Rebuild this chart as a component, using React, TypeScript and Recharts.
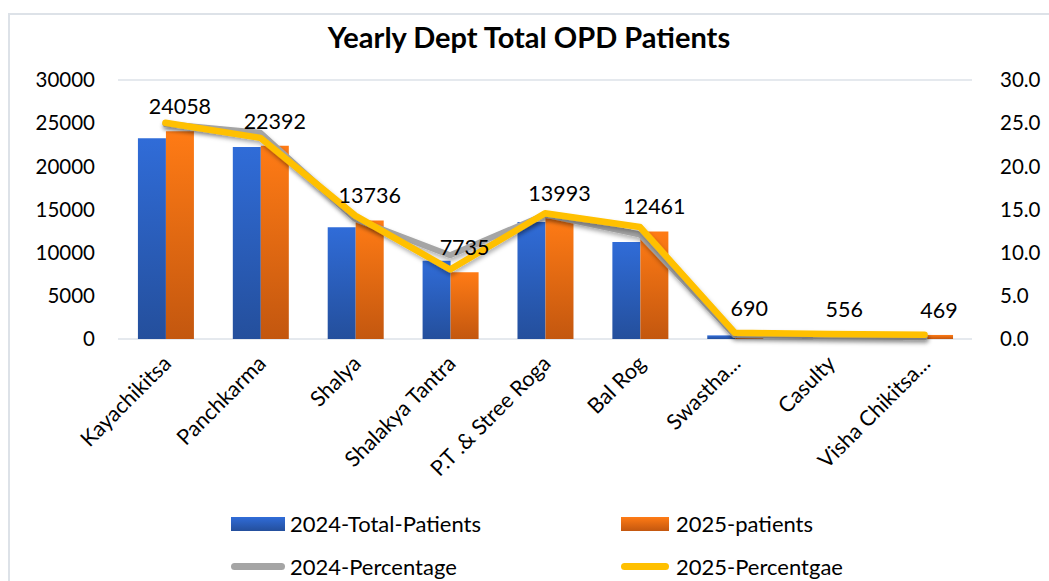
import React from 'react';
import {
  ComposedChart, Bar, Line, XAxis, YAxis, CartesianGrid, LabelList,
} from 'recharts';

const categories = ['Kayachikitsa', 'Panchkarma', 'Shalya', 'Shalakya Tantra', 'P.T .& Stree Roga', 'Bal Rog', 'Swastha...', 'Casulty', 'Visha Chikitsa...'];
const patients2024 = [23250, 22250, 12950, 9050, 13550, 11250, 420, 300, 200];
const patients2025 = [24058, 22392, 13736, 7735, 13993, 12461, 690, 556, 469];
const percent2024 = [24.9, 23.9, 13.9, 9.7, 14.4, 12.1, 0.45, 0.32, 0.21];
const percent2025 = [25.04, 23.3, 14.29, 8.05, 14.56, 12.97, 0.72, 0.58, 0.49];
const leftTicks = [0, 5000, 10000, 15000, 20000, 25000, 30000];
const rightTicks = [0, 5, 10, 15, 20, 25, 30];

const data = categories.map((name, i) => ({
  name,
  p2024: patients2024[i],
  p2025: patients2025[i],
  pc2024: percent2024[i],
  pc2025: percent2025[i],
}));

const FONT = 'Lato, "Open Sans", sans-serif';

const XTick = (props: any) => {
  const { x, payload } = props;
  const px = x + 7;
  const py = 365;
  return (
    <text x={px} y={py} transform={`rotate(-45 ${px} ${py})`} textAnchor="end" fontSize={21.5} fontFamily={FONT} fill="#000">
      {payload.value}
    </text>
  );
};

export default function App() {
  return (
    <div style={{ position: 'absolute', left: 0, top: 0, width: 1049, height: 581, overflow: 'hidden', background: '#fff', fontFamily: FONT }}>
      <svg width={0} height={0} style={{ position: 'absolute' }}>
        <defs>
          <linearGradient id="gBlue" x1="0" y1="0" x2="0" y2="1">
            <stop offset="0%" stopColor="#306CD8" />
            <stop offset="100%" stopColor="#244F9C" />
          </linearGradient>
          <linearGradient id="gOrange" x1="0" y1="0" x2="0" y2="1">
            <stop offset="0%" stopColor="#FF7B15" />
            <stop offset="100%" stopColor="#C3570F" />
          </linearGradient>
          <filter id="shadow" x="-10%" y="-10%" width="120%" height="140%">
            <feDropShadow dx="1" dy="3" stdDeviation="2" floodColor="#000" floodOpacity="0.3" />
          </filter>
        </defs>
      </svg>
      <div style={{ position: 'absolute', left: 8, top: 13, width: 1100, height: 620, border: '2px solid #DDE2E8', boxSizing: 'border-box' }} />
      <div style={{ position: 'absolute', left: 0, top: 19, width: 1058, textAlign: 'center', fontSize: 29, lineHeight: '36px', fontWeight: 700, color: '#000', fontFamily: FONT }}>
        Yearly Dept Total OPD Patients
      </div>
      <div style={{ position: 'absolute', left: 0, top: 0 }}>
        <ComposedChart
          width={1049}
          height={581}
          data={data}
          margin={{ top: 80, right: 0, left: 0, bottom: 0 }}
          barCategoryGap="21%"
          barGap={0}
        >
          <CartesianGrid vertical={false} stroke="#DDE2E8" strokeWidth={1.5} />
          <XAxis dataKey="name" axisLine={false} tickLine={false} height={242} interval={0} tick={<XTick />} />
          <YAxis
            yAxisId="left"
            width={118}
            domain={[0, 30000]}
            ticks={leftTicks}
            axisLine={false}
            tickLine={false}
            tickMargin={17}
            tick={{ fontSize: 20.5, fill: '#000', fontFamily: FONT }}
          />
          <YAxis
            yAxisId="right"
            orientation="right"
            width={77}
            domain={[0, 30]}
            ticks={rightTicks}
            axisLine={false}
            tickLine={false}
            tickMargin={22}
            tickFormatter={(v: number) => v.toFixed(1)}
            tick={{ fontSize: 20.5, fill: '#000', fontFamily: FONT, textAnchor: 'start' }}
          />
          <Bar yAxisId="left" dataKey="p2024" fill="url(#gBlue)" isAnimationActive={false} />
          <Bar yAxisId="left" dataKey="p2025" fill="url(#gOrange)" isAnimationActive={false}>
            <LabelList dataKey="p2025" position="top" offset={17} fontSize={21.5} fill="#000" fontFamily={FONT} />
          </Bar>
          <Line yAxisId="right" dataKey="pc2024" stroke="#A5A5A5" strokeWidth={6} dot={false} strokeLinecap="round" strokeLinejoin="round" filter="url(#shadow)" isAnimationActive={false} />
          <Line yAxisId="right" dataKey="pc2025" stroke="#FFC000" strokeWidth={6.5} dot={false} strokeLinecap="round" strokeLinejoin="round" filter="url(#shadow)" isAnimationActive={false} />
        </ComposedChart>
      </div>
      <div style={{ position: 'absolute', left: 0, top: 0, width: 1049, height: 581, pointerEvents: 'none', fontSize: 22 }}>
        <div style={{ position: 'absolute', left: 231, top: 517, width: 54, height: 14, background: 'linear-gradient(#306CD8, #244F9C)' }} />
        <div style={{ position: 'absolute', left: 290, top: 510, lineHeight: '28px', color: '#000' }}>2024-Total-Patients</div>
        <div style={{ position: 'absolute', left: 621, top: 517, width: 48, height: 14, background: 'linear-gradient(#FF7B15, #C3570F)' }} />
        <div style={{ position: 'absolute', left: 676, top: 510, lineHeight: '28px', color: '#000' }}>2025-patients</div>
        <div style={{ position: 'absolute', left: 231, top: 563, width: 54, height: 7, borderRadius: 4, background: '#A5A5A5' }} />
        <div style={{ position: 'absolute', left: 290, top: 553, lineHeight: '28px', color: '#000' }}>2024-Percentage</div>
        <div style={{ position: 'absolute', left: 621, top: 563, width: 48, height: 7, borderRadius: 4, background: '#FFC000' }} />
        <div style={{ position: 'absolute', left: 676, top: 553, lineHeight: '28px', color: '#000' }}>2025-Percentgae</div>
      </div>
    </div>
  );
}
